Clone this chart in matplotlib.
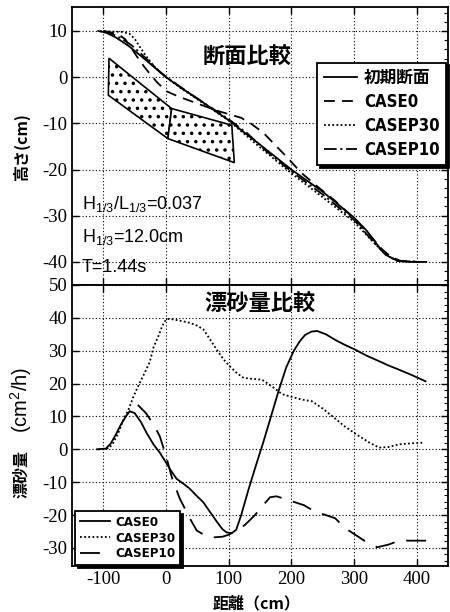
import matplotlib
matplotlib.use("Agg")
import matplotlib.pyplot as plt
from matplotlib.ticker import MultipleLocator
from matplotlib import font_manager
from matplotlib.patches import Polygon

# ---------------- data ----------------
# top panel: beach profiles (x: distance cm, z: elevation cm)
x_init = [-108, -95, -80, -60, -40, -20, 0, 25, 50, 75, 100, 125, 150, 175, 200,
          225, 250, 275, 300, 320, 340, 355, 370, 390, 415]
z_init = [10, 9.6, 8.6, 6.8, 4.6, 2.3, 0, -2.4, -4.6, -7, -9.3, -12, -14.6, -17.3, -20,
          -22.4, -24.8, -27.6, -30.4, -33.2, -36.8, -38.8, -39.8, -40, -40]

x_case0 = [-100, -88, -75, -65, -55, -45, -35, -25, -15, 0, 20, 40, 60, 80, 100, 120,
           135, 155, 175, 195, 215, 240, 270, 300, 325, 345, 360, 375, 405]
z_case0 = [10, 9.7, 9.2, 8.2, 6.2, 4.2, 2.3, 0.6, -1, -3, -4.2, -5.2, -6.2, -7.2, -8, -8.8,
           -10, -12, -14.8, -17.6, -20.6, -23.5, -26.8, -30.6, -34.2, -37.3, -39, -39.8, -40]

x_p30 = [-105, -90, -70, -58, -50, -42, -32, -20, -10, 0, 25, 60, 100, 150, 200, 250,
         300, 330, 350, 368, 400]
z_p30 = [10, 9.9, 9.8, 9.4, 8.3, 6.6, 4.6, 2.5, 1.1, 0, -2.5, -5.7, -9.4, -15.2, -20.8,
         -26, -31.3, -35.6, -38.4, -39.7, -40]

x_p10 = [-100, -85, -70, -55, -40, -25, -10, 0, 20, 45, 70, 100, 130, 160, 200, 250,
         300, 330, 350, 370, 405]
z_p10 = [10, 9.3, 8.3, 6.9, 5.1, 3.2, 1.2, 0.1, -1.8, -4.2, -6.4, -9.1, -12.2, -16,
         -20.4, -25.4, -30.9, -35.5, -38.4, -39.8, -40]

# nourishment (stippled) block outline, two parts
fill1_x = [-91, 9, 3, -92]
fill1_z = [4.1, -6.8, -13.3, -3.9]
fill2_x = [9, 105, 109, 3]
fill2_z = [-6.8, -10.4, -18.5, -13.3]

# bottom panel: sediment transport rate (cm^2/h)
x_q0 = [-110, -96, -88, -80, -72, -64, -58, -50, -40, -31, -20, -10, 0, 8, 17, 28, 38,
        48, 59, 70, 81, 90, 97, 105, 112, 120, 132, 145, 155, 166, 180, 192, 204, 214,
        222, 232, 241, 255, 270, 285, 302, 320, 340, 355, 372, 392, 414]
z_q0 = [0, 0.2, 1.8, 4.5, 7.5, 10, 11.6, 11, 8.3, 5, 1.5, -1, -4, -6.5, -9, -10.5, -12,
        -14, -16, -19, -22, -24.3, -25.3, -25.5, -24.5, -20, -12, -4, 2, 9, 18, 25, 30,
        33, 34.8, 35.8, 36, 35, 33.3, 31.8, 30.3, 28.5, 26.8, 25.5, 24.2, 22.6, 20.7]

x_q30 = [-108, -98, -90, -84, -76, -68, -60, -52, -45, -36, -26, -20, -12, -6, 0, 6, 20,
         38, 50, 60, 70, 81, 92, 102, 113, 124, 140, 153, 170, 185, 196, 215, 233, 250,
         265, 285, 308, 325, 340, 355, 372, 390, 409]
z_q30 = [0, 0, 0.5, 2, 5, 9, 12, 16, 19, 22.5, 26.5, 31, 34.5, 37.5, 39.5, 39.7, 39.2,
         38.5, 37.6, 36.4, 33.5, 30.3, 27.3, 25.2, 23.2, 21.7, 21.4, 21.2, 19, 16.8, 16.2,
         15.2, 14.6, 12.4, 10.1, 7, 4, 2, 0.5, 0.7, 1.5, 1.8, 2]

x_q10 = [-45, -32, -20, -10, 0, 10, 22, 38, 49, 62, 76, 90, 100, 115, 126, 142, 155, 166,
         176, 188, 204, 220, 238, 255, 270, 286, 302, 318, 337, 355, 372, 390, 417]
z_q10 = [13.5, 11, 7.6, 4, -2, -9, -15, -21, -24.7, -26.2, -26.8, -26.6, -26, -24.5, -23,
         -20, -17, -14.6, -14.3, -15, -16, -17, -19, -20, -21, -24, -26, -28, -29.8, -29,
         -27.8, -27.8, -27.8]

labels_top = ["初期断面", "CASE0", "CASEP30", "CASEP10"]
labels_bot = ["CASE0", "CASEP30", "CASEP10"]
title_top = "断面比較"
title_bot = "漂砂量比較"
xticks = [-100, 0, 100, 200, 300, 400]
yticks_top = [10, 0, -10, -20, -30, -40]
yticks_bot = [50, 40, 30, 20, 10, 0, -10, -20, -30]

# ---------------- fonts ----------------
CJK = "Noto Sans CJK JP"
SERIF = "Liberation Serif"
SANS = "Liberation Sans"
narrow_family, narrow_stretch = SANS, "normal"
_names = {f.name for f in font_manager.fontManager.ttflist}
if "Liberation Sans Narrow" in _names:
    narrow_family = "Liberation Sans Narrow"
else:
    for f in font_manager.fontManager.ttflist:
        if "condensed" in str(f.stretch).lower() or "Condensed" in f.fname:
            narrow_family, narrow_stretch = f.name, "condensed"
            if "Bold" in f.fname:
                break

plt.rcParams["mathtext.fontset"] = "custom"
plt.rcParams["mathtext.rm"] = SANS
plt.rcParams["mathtext.it"] = SANS
plt.rcParams["hatch.linewidth"] = 1.3

fig = plt.figure(figsize=(4.5, 6.12), dpi=100)
ax1 = fig.add_axes([0.16, 0.5343, 0.8356, 0.4543])
ax2 = fig.add_axes([0.16, 0.0752, 0.8356, 0.4592])

lw = 1.3
grid_kw = dict(color="black", linestyle=(0, (1, 2)), linewidth=0.8)

for ax in (ax1, ax2):
    ax.set_xlim(-150, 450)
    ax.set_xticks(xticks)
    ax.grid(True, **grid_kw)
    ax.set_axisbelow(True)
    ax.yaxis.set_minor_locator(MultipleLocator(2))
    ax.tick_params(which="major", direction="in", top=True, right=True, length=5, width=1)
    ax.tick_params(which="minor", direction="in", left=False, right=True, length=3, width=0.8)
    for s in ax.spines.values():
        s.set_linewidth(1.3)

leg_prop_top = {"family": [narrow_family, CJK], "weight": "bold", "size": 12,
                "stretch": narrow_stretch}
leg_prop_bot = {"family": [narrow_family, CJK], "weight": "bold", "size": 9.5,
                "stretch": narrow_stretch}

# ---- top panel ----
ax1.set_ylim(-45, 15.2)
ax1.set_yticks(yticks_top)
ax1.set_yticklabels([str(v) for v in yticks_top], fontfamily=SERIF, fontsize=13.5)
ax1.tick_params(axis="x", labelbottom=False)

for fx, fz in ((fill1_x, fill1_z), (fill2_x, fill2_z)):
    ax1.add_patch(Polygon(list(zip(fx, fz)), closed=True, facecolor="white",
                          edgecolor="black", hatch="..", linewidth=1.2, zorder=2))

h1, = ax1.plot(x_init, z_init, color="black", lw=lw, ls="-", zorder=3)
h2, = ax1.plot(x_case0, z_case0, color="black", lw=lw, ls=(0, (6, 4)), zorder=3)
h3, = ax1.plot(x_p30, z_p30, color="black", lw=lw, ls=(0, (1, 1.3)), zorder=3)
h4, = ax1.plot(x_p10, z_p10, color="black", lw=lw, ls=(0, (7, 2, 1.2, 2)), zorder=3)

leg1 = ax1.legend([h1, h2, h3, h4], labels_top, loc="upper right",
                  bbox_to_anchor=(0.995, 0.80), borderaxespad=0, prop=leg_prop_top,
                  frameon=True, fancybox=False, edgecolor="black",
                  shadow={"color": "black", "alpha": 1.0},
                  handlelength=2.0, handletextpad=0.4, labelspacing=0.35,
                  borderpad=0.4)
leg1.get_frame().set_linewidth(1.3)
leg1.get_frame().set_alpha(1)

ax1.text(130, 4.6, title_top, fontfamily=CJK, fontweight="bold", fontsize=16,
         ha="center", va="center", zorder=5)

ann = [r"H$_{1/3}$/L$_{1/3}$=0.037", r"H$_{1/3}$=12.0cm", "T=1.44s"]
ann_y = [-27.5, -34.5, -41.3]
for t, yy in zip(ann, ann_y):
    ax1.text(-134, yy, t, fontfamily=SANS, fontsize=13, ha="left", va="center", zorder=5)

# ---- bottom panel ----
ax2.set_ylim(-35.5, 50)
ax2.set_yticks(yticks_bot)
ax2.set_yticklabels([str(v) for v in yticks_bot], fontfamily=SERIF, fontsize=13.5)
ax2.set_xticklabels([str(v) for v in xticks], fontfamily=SERIF, fontsize=13.5)

g1, = ax2.plot(x_q0, z_q0, color="black", lw=lw, ls="-", zorder=3)
g2, = ax2.plot(x_q30, z_q30, color="black", lw=lw, ls=(0, (1, 1.3)), zorder=3)
g3, = ax2.plot(x_q10, z_q10, color="black", lw=lw, ls=(0, (11, 6.6)), zorder=3)

leg2 = ax2.legend([g1, g2, g3], labels_bot, loc="lower left",
                  bbox_to_anchor=(0.008, 0.004), borderaxespad=0, prop=leg_prop_bot,
                  frameon=True, fancybox=False, edgecolor="black",
                  shadow={"color": "black", "alpha": 1.0},
                  handlelength=2.3, handletextpad=0.4, labelspacing=0.2,
                  borderpad=0.35)
leg2.get_frame().set_linewidth(1.3)

ax2.text(150, 44.2, title_bot, fontfamily=CJK, fontweight="bold", fontsize=16,
         ha="center", va="center", zorder=5)

# ---- axis labels ----
W, H = 450, 612
fig.text(21 / W, 1 - 147 / H, "高さ(cm)", rotation=90, fontfamily=CJK,
         fontweight="bold", fontsize=11.5, ha="center", va="center")
fig.text(21 / W, 1 - 474 / H, "漂砂量", rotation=90, fontfamily=CJK,
         fontweight="bold", fontsize=11.5, ha="center", va="center")
fig.text(21 / W, 1 - 400 / H, r"(cm$^2$/h)", rotation=90, fontfamily=SANS,
         fontsize=14.5, ha="center", va="center")
fig.text(257 / W, 1 - 603 / H, "距離（cm）", fontfamily=CJK, fontweight="bold",
         fontsize=11.5, ha="center", va="center")

fig.savefig("out.png", dpi=100)
